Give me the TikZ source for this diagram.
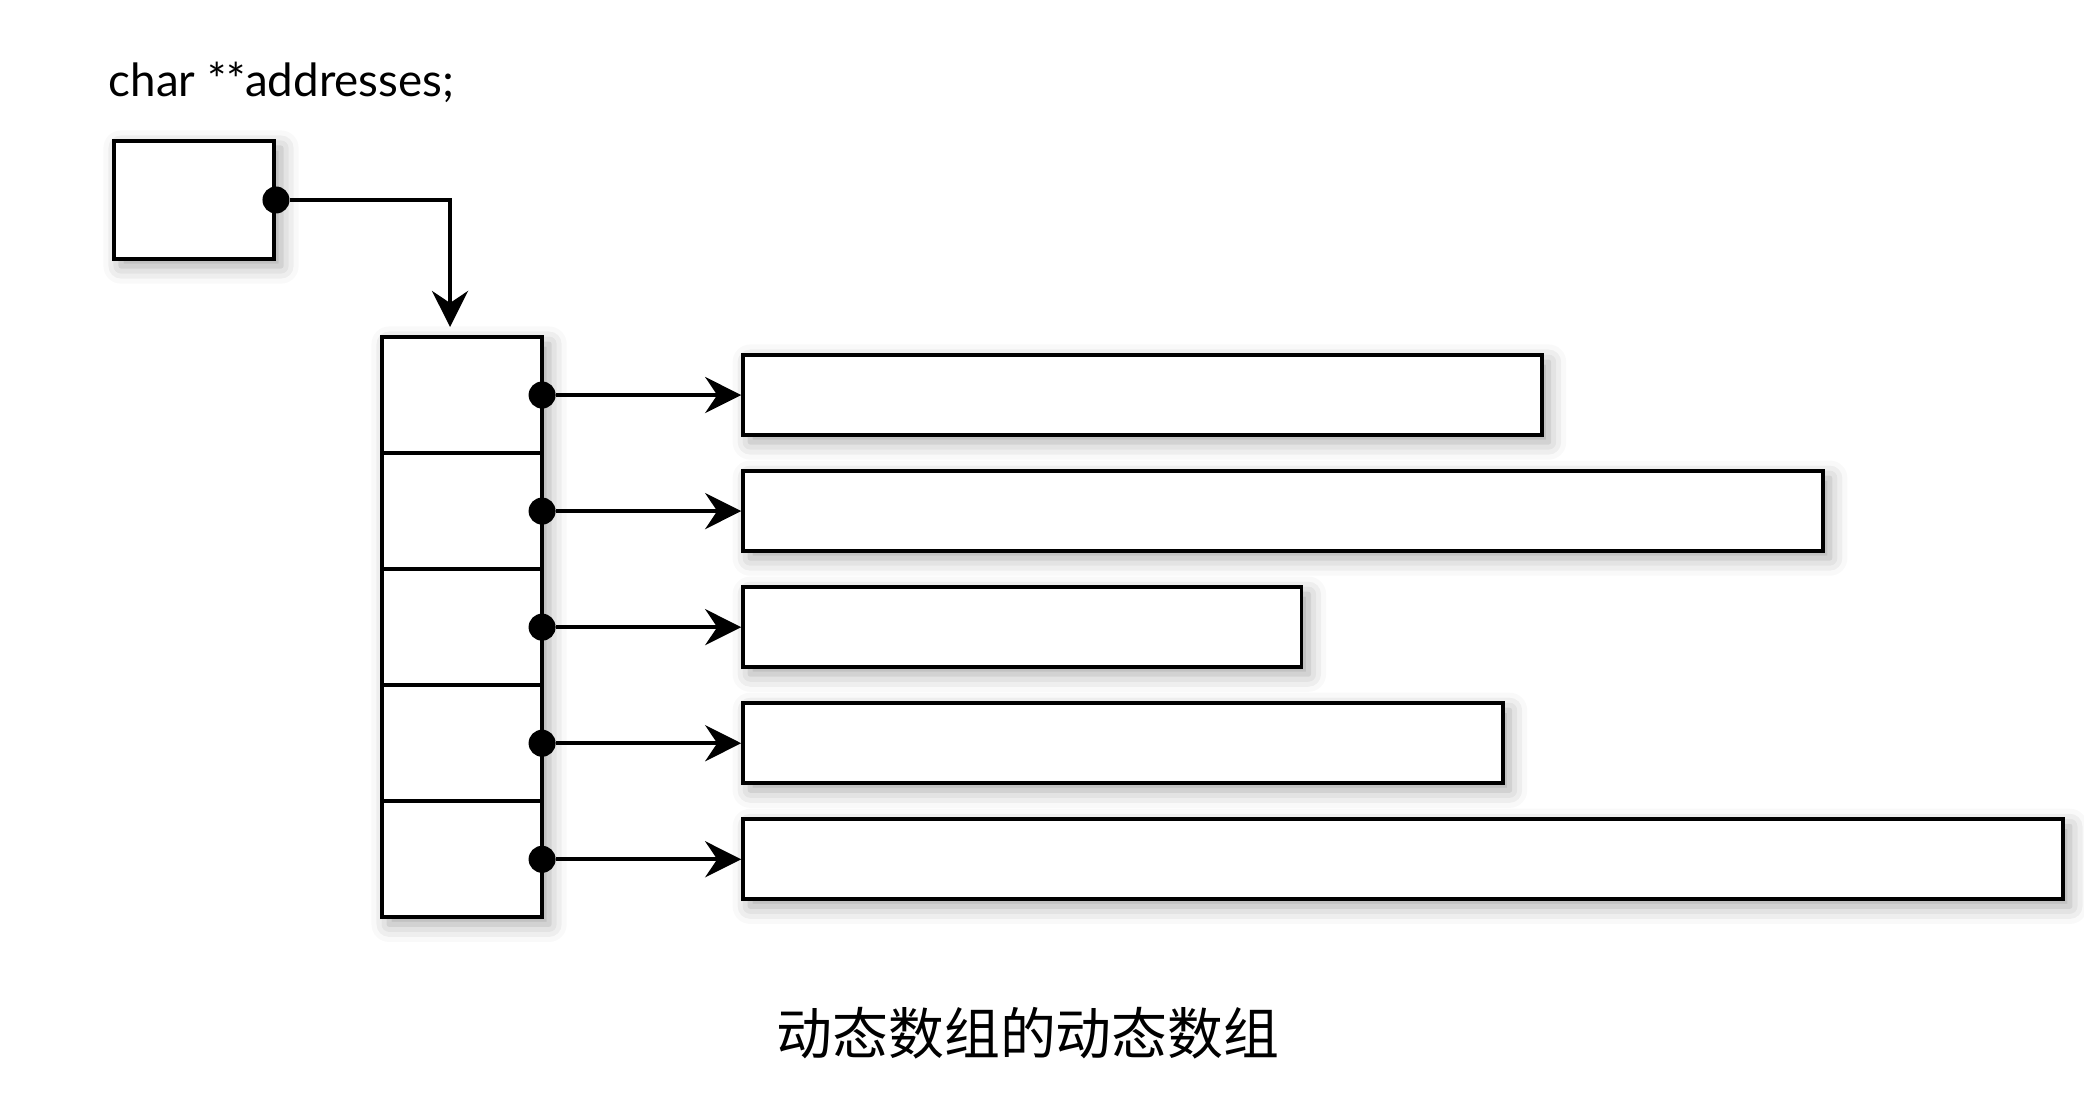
\documentclass[tikz,border=0pt]{standalone}
\usepackage{fontspec}
\setmainfont{Lato}
\newfontfamily\cjk{Noto Sans CJK SC}
\usetikzlibrary{arrows.meta,positioning,shadows.blur}

\begin{document}
\begin{tikzpicture}[x=0.01cm,y=-0.01cm,>={Stealth[length=3.6mm,width=3.6mm,inset=1.2mm]},
box/.style={draw,line width=1.1pt,fill=white,inner sep=0,
  blur shadow={shadow xshift=2pt,shadow yshift=-2pt,shadow blur radius=5pt,shadow opacity=35}},
cell/.style={draw,line width=1.1pt,inner sep=0,outer sep=0,minimum width=16mm,minimum height=11.6mm},
dot/.style={circle,fill,inner sep=0,minimum size=2.7mm},
link/.style={->,line width=1.1pt}]
\useasboundingbox (0,0) rectangle (2084,1116);
\node[font=\fontsize{13}{15}\selectfont,anchor=base west,inner sep=0] (decl) at (108,97) {char **addresses;};
\node[box,minimum width=16mm,minimum height=11.8mm] (pvar) at (194,200) {};
% column of pointers
\node[box,outer sep=0,minimum width=16mm,minimum height=58mm,anchor=north west] (arr) at (382,337) {};
\node[cell,anchor=north] (c1) at (arr.north) {};
\foreach \i [count=\j from 2] in {1,...,4}
  \node[cell,below=0pt of c\i] (c\j) {};
\node[dot] (d0) at (pvar.east) {};
\draw[link] (d0) -| ([xshift=-1.2mm,yshift=1mm]arr.north);
% the strings
\foreach \i/\w in {1/7.98,2/10.79,3/5.58,4/7.59,5/13.19} {
  \node[dot] (d\i) at (c\i.east) {};
  \node[box,minimum width=\w cm,minimum height=8mm,right=19.9mm of c\i] (s\i) {};
  \draw[link] (d\i) -- (s\i);
}
\node[font=\cjk\fontsize{15.9}{18}\selectfont] (cap) at (1028,1033) {动态数组的动态数组};
\end{tikzpicture}
\end{document}
